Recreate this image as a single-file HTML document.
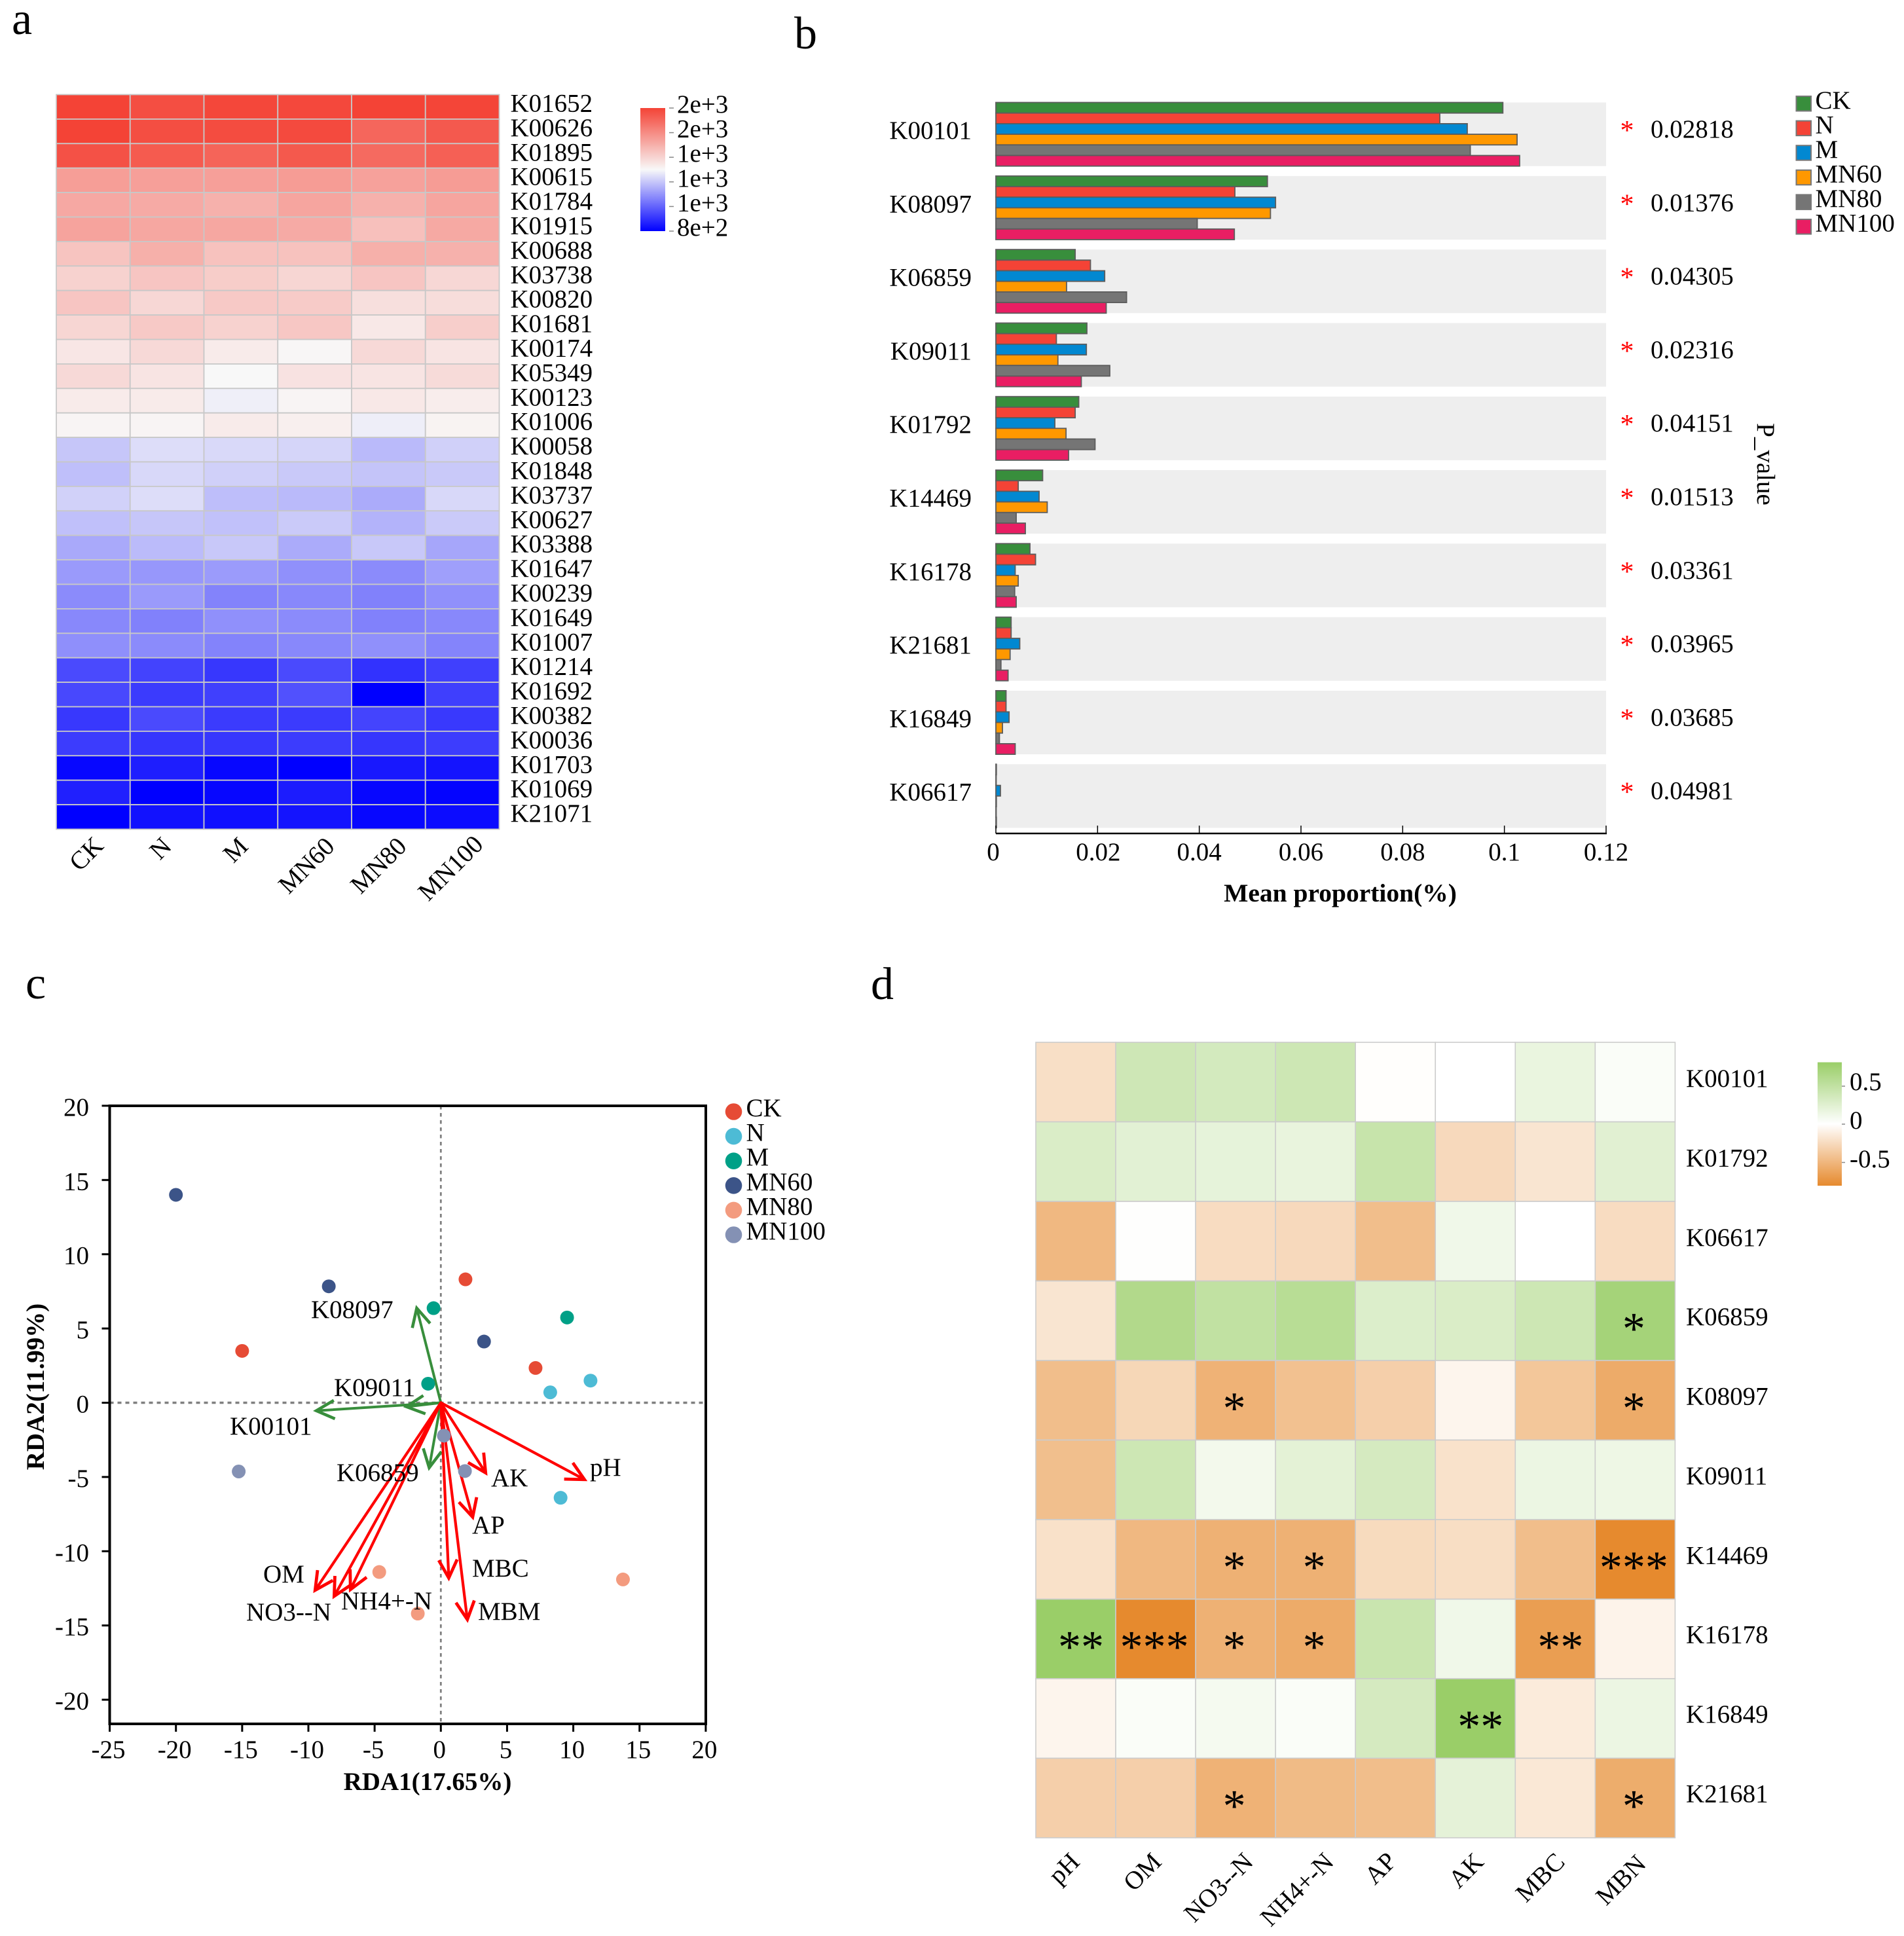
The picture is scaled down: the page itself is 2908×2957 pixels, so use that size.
<!DOCTYPE html>
<html lang="en">
<head>
<meta charset="utf-8">
<title>KEGG functional gene figure</title>
<style>
html,body{margin:0;padding:0;background:#fff;}
svg{display:block;}
text{font-family:"Liberation Serif","DejaVu Serif",serif;font-size:39px;fill:#000;}
.b{font-weight:bold;}
.letter{font-size:70px;}
</style>
</head>
<body>
<svg id="figure" xmlns="http://www.w3.org/2000/svg" width="2908" height="2957" viewBox="0 0 2908 2957">
  <defs>
    <linearGradient id="gradA" x1="0" y1="0" x2="0" y2="1">
      <stop offset="0" stop-color="#F44336"/><stop offset="0.5" stop-color="#F8F8F8"/><stop offset="1" stop-color="#0000FF"/>
    </linearGradient>
    <linearGradient id="gradD" x1="0" y1="0" x2="0" y2="1">
      <stop offset="0" stop-color="#9ACE68"/><stop offset="0.5" stop-color="#FFFFFF"/><stop offset="1" stop-color="#E68A2E"/>
    </linearGradient>
  </defs>
  <rect width="2908" height="2957" fill="#fff"/>

  <text class="letter" x="18" y="52">a</text>
  <text class="letter" x="1213" y="74">b</text>
  <text class="letter" x="39" y="1525">c</text>
  <text class="letter" x="1330" y="1526">d</text>

  <g id="panelA"></g>
  <g>
    <text text-anchor="end" transform="translate(160 1294) rotate(-45)">CK</text>
    <text text-anchor="end" transform="translate(264 1295) rotate(-45)">N</text>
    <text text-anchor="end" transform="translate(381 1295) rotate(-45)">M</text>
    <text text-anchor="end" transform="translate(513 1295) rotate(-45)">MN60</text>
    <text text-anchor="end" transform="translate(623 1295) rotate(-45)">MN80</text>
    <text text-anchor="end" transform="translate(740 1292) rotate(-45)">MN100</text>
  </g>
  <g>
    <rect x="978" y="165" width="38" height="188" fill="url(#gradA)"/>
    <g stroke="#888" stroke-width="1.5">
      <line x1="1022" x2="1029" y1="165" y2="165"/><line x1="1022" x2="1029" y1="202.6" y2="202.6"/><line x1="1022" x2="1029" y1="240.2" y2="240.2"/><line x1="1022" x2="1029" y1="277.8" y2="277.8"/><line x1="1022" x2="1029" y1="315.4" y2="315.4"/><line x1="1022" x2="1029" y1="353" y2="353"/>
    </g>
    <text x="1034" y="172">2e+3</text>
    <text x="1034" y="209.6">2e+3</text>
    <text x="1034" y="247.2">1e+3</text>
    <text x="1034" y="284.8">1e+3</text>
    <text x="1034" y="322.4">1e+3</text>
    <text x="1034" y="360">8e+2</text>
  </g>

  <g id="panelB"></g>
  <text class="b" x="2047" y="1377" text-anchor="middle" style="font-size:39.5px">Mean proportion(%)</text>
  <text transform="translate(2684 709) rotate(90)" text-anchor="middle">P_value</text>

  <g id="panelC"></g>
  <text class="b" x="653" y="2734" text-anchor="middle">RDA1(17.65%)</text>
  <text class="b" transform="translate(67 2118) rotate(-90)" text-anchor="middle">RDA2(11.99%)</text>
  <g>
    <text x="475" y="2013">K08097</text>
    <text x="510" y="2132">K09011</text>
    <text x="351" y="2191">K00101</text>
    <text x="514" y="2262">K06859</text>
    <text x="901" y="2254">pH</text>
    <text x="750" y="2270">AK</text>
    <text x="721" y="2342">AP</text>
    <text x="721" y="2408">MBC</text>
    <text x="730" y="2474">MBM</text>
    <text x="402" y="2417">OM</text>
    <text x="376" y="2475">NO3--N</text>
    <text x="521" y="2458">NH4+-N</text>
  </g>

  <g id="panelD"></g>
  <g>
    <text text-anchor="end" transform="translate(1651 2846) rotate(-45)">pH</text>
    <text text-anchor="end" transform="translate(1776 2846) rotate(-45)">OM</text>
    <text text-anchor="end" transform="translate(1916 2846) rotate(-45)">NO3--N</text>
    <text text-anchor="end" transform="translate(2039 2846) rotate(-45)">NH4+-N</text>
    <text text-anchor="end" transform="translate(2135 2845) rotate(-45)">AP</text>
    <text text-anchor="end" transform="translate(2268 2846) rotate(-45)">AK</text>
    <text text-anchor="end" transform="translate(2392 2846) rotate(-45)">MBC</text>
    <text text-anchor="end" transform="translate(2516 2849) rotate(-45)">MBN</text>
  </g>
  <g>
    <rect x="2776" y="1622.5" width="37" height="188.5" fill="url(#gradD)"/>
    <g stroke="#888" stroke-width="1.5">
      <line x1="2813" x2="2818" y1="1659" y2="1659"/><line x1="2813" x2="2818" y1="1717" y2="1717"/><line x1="2813" x2="2818" y1="1775.5" y2="1775.5"/>
    </g>
    <text x="2825" y="1665">0.5</text>
    <text x="2825" y="1724">0</text>
    <text x="2825" y="1783">-0.5</text>
  </g>
</svg>

<script>
/* ---------- Panel a data ---------- */
const heatGenes = ["K01652","K00626","K01895","K00615","K01784","K01915","K00688","K03738","K00820","K01681","K00174","K05349","K00123","K01006","K00058","K01848","K03737","K00627","K03388","K01647","K00239","K01649","K01007","K01214","K01692","K00382","K00036","K01703","K01069","K21071"];
const heatTreatments = ["CK","N","M","MN60","MN80","MN100"];
const heatValues = [
[1800,1770,1790,1785,1800,1795],
[1800,1770,1775,1780,1703,1739],
[1760,1735,1710,1740,1692,1720],
[1550,1545,1545,1555,1540,1554],
[1520,1515,1495,1530,1496,1529],
[1535,1525,1525,1515,1455,1518],
[1445,1500,1450,1450,1500,1495],
[1405,1440,1420,1395,1440,1390],
[1440,1390,1430,1425,1370,1375],
[1395,1430,1405,1435,1345,1415],
[1350,1385,1335,1305,1385,1355],
[1385,1355,1300,1360,1355,1380],
[1335,1335,1282,1310,1345,1330],
[1310,1310,1335,1325,1280,1315],
[1200,1245,1238,1230,1175,1220],
[1185,1235,1220,1205,1195,1205],
[1222,1245,1183,1175,1145,1236],
[1187,1200,1190,1207,1160,1207],
[1140,1178,1203,1145,1203,1135],
[1110,1105,1113,1090,1080,1120],
[1080,1110,1065,1075,1060,1090],
[1075,1060,1090,1080,1060,1075],
[1088,1080,1065,1075,1090,1067],
[950,935,910,950,900,930],
[945,918,930,963,800,928],
[912,950,918,918,937,915],
[920,908,910,920,908,922],
[815,860,815,800,848,840],
[865,800,815,856,815,808],
[800,836,832,840,815,825]
];

/* ---------- Panel b data ---------- */
const barGenes = ["K00101","K08097","K06859","K09011","K01792","K14469","K16178","K21681","K16849","K06617"];
const barGroups = ["CK","N","M","MN60","MN80","MN100"];
const barCK = [0.0997,0.0534,0.0156,0.0179,0.0163,0.0092,0.0067,0.0030,0.0020,0.0001];
const barN = [0.0873,0.0470,0.0186,0.0119,0.0156,0.0044,0.0078,0.0030,0.0020,0.00005];
const barM = [0.0927,0.0550,0.0214,0.0178,0.0116,0.0085,0.0038,0.0047,0.0026,0.0009];
const barMN60 = [0.1025,0.0540,0.0139,0.0122,0.0138,0.0101,0.0044,0.0028,0.0013,0.0001];
const barMN80 = [0.0933,0.0396,0.0257,0.0224,0.0195,0.0040,0.0037,0.0010,0.0007,0.00005];
const barMN100 = [0.1030,0.0469,0.0217,0.0168,0.0143,0.0058,0.0040,0.0024,0.0038,0.0001];
const barSeries = [barCK,barN,barM,barMN60,barMN80,barMN100];
const pValues = ["0.02818","0.01376","0.04305","0.02316","0.04151","0.01513","0.03361","0.03965","0.03685","0.04981"];
const barTicks = [0,0.02,0.04,0.06,0.08,0.1,0.12];

/* ---------- Panel c data ---------- */
const rdaGroups = ["CK","N","M","MN60","MN80","MN100"];
const rdaGroupOfPoint = [0,0,0,1,1,1,2,2,2,3,3,3,4,4,4,5,5,5];
const rdaScore1 = [1.86,7.15,-15.0,11.3,8.26,9.04,9.53,-0.55,-0.96,-20.0,-8.46,3.26,-4.65,-1.74,13.75,0.23,1.82,-15.26];
const rdaScore2 = [8.31,2.34,3.49,1.49,0.7,-6.4,5.74,6.37,1.28,14.0,7.84,4.12,-11.4,-14.2,-11.9,-2.22,-4.6,-4.63];
const geneNames = ["K00101","K09011","K08097","K06859"];
const geneRda1 = [-9.4,-2.6,-1.82,-0.88];
const geneRda2 = [-0.54,-0.27,6.37,-4.38];
const envNames = ["pH","AK","AP","MBC","MBM","OM","NO3--N","NH4+-N"];
const envRda1 = [10.84,3.38,2.4,0.6,2.0,-9.49,-8.05,-6.82];
const envRda2 = [-5.17,-4.72,-7.7,-11.8,-14.6,-12.63,-13.03,-12.58];
const rdaXTicks = [-25,-20,-15,-10,-5,0,5,10,15,20];
const rdaYTicks = [20,15,10,5,0,-5,-10,-15,-20];

/* ---------- Panel d data ---------- */
const corrGenes = ["K00101","K01792","K06617","K06859","K08097","K09011","K14469","K16178","K16849","K21681"];
const corrFactors = ["pH","OM","NO3--N","NH4+-N","AP","AK","MBC","MBN"];
const corrValues = [
[-0.22,0.39,0.35,0.40,-0.01,0,0.17,0.04],
[0.30,0.23,0.20,0.18,0.45,-0.26,-0.18,0.24],
[-0.49,0.01,-0.24,-0.26,-0.45,0.12,0,-0.24],
[-0.18,0.62,0.50,0.57,0.28,0.30,0.40,0.72],
[-0.45,-0.28,-0.53,-0.43,-0.33,-0.07,-0.39,-0.58],
[-0.44,0.40,0.10,0.22,0.34,-0.20,0.15,0.14],
[-0.21,-0.49,-0.54,-0.54,-0.25,-0.23,-0.45,-0.81],
[0.81,-0.81,-0.54,-0.58,0.43,0.12,-0.67,-0.08],
[-0.07,0.04,0.08,0.04,0.34,0.81,-0.14,0.15],
[-0.33,-0.33,-0.53,-0.47,-0.45,0.21,-0.16,-0.57]
];
const corrStars = [
["","","","","","","",""],
["","","","","","","",""],
["","","","","","","",""],
["","","","","","","","*"],
["","","*","","","","","*"],
["","","","","","","",""],
["","","*","*","","","","***"],
["**","***","*","*","","","**",""],
["","","","","","**","",""],
["","","*","","","","","*"]
];

/* ---------- helpers ---------- */
const NS = "http://www.w3.org/2000/svg";
function add(tag, attrs, parent, txt) {
  const el = document.createElementNS(NS, tag);
  for (const k in attrs) el.setAttribute(k, attrs[k]);
  if (txt !== undefined) el.textContent = txt;
  parent.appendChild(el);
  return el;
}
function hex(c) { return [parseInt(c.slice(1,3),16),parseInt(c.slice(3,5),16),parseInt(c.slice(5,7),16)]; }
function mix(a, b, t) {
  const A = hex(a), B = hex(b);
  t = Math.max(0, Math.min(1, t));
  return "rgb(" + A.map((v,i)=>Math.round(v+(B[i]-v)*t)).join(",") + ")";
}

/* ---------- Panel a ---------- */
(function () {
  const g = document.getElementById("panelA");
  const left = 86, top = 144.5, cw = (762.5-86)/6, rh = 37.4;
  const xA = c => left + c*cw;
  const yA = r => top + r*rh;
  const colorA = v => v >= 1300 ? mix("#F8F8F8","#F44336",(v-1300)/500) : mix("#F8F8F8","#0000FF",(1300-v)/500);
  heatValues.forEach((row,r) => {
    row.forEach((v,c) => {
      const cell = add("rect",{x:xA(c),y:yA(r),width:cw,height:rh,fill:colorA(v),stroke:"#c8c8c8","stroke-width":1.8},g);
      
      
    });
    const lab = add("text",{x:779.5,y:yA(r)+26},g,heatGenes[r]);
    
    
  });
})();

/* ---------- Panel b ---------- */
(function () {
  const g = document.getElementById("panelB");
  const x0 = 1521, x1 = 2453, bandTop = 156.5, pitch = 112.3, bandH = 97.2;
  const xB = v => x0 + (v/0.12)*(x1-x0);
  const yB = r => bandTop + r*pitch;
  const colors = ["#388E3C","#F44336","#0288D1","#FF9800","#757575","#E91E63"];
  barGenes.forEach((gene,r) => {
    const band = add("rect",{x:x0,y:yB(r),width:x1-x0,height:bandH,fill:"#EEEEEE"},g);
    
    
    const h = bandH/6;
    barSeries.forEach((series,s) => {
      const bar = add("rect",{x:x0,y:yB(r)+s*h,width:Math.max(0.5,xB(series[r])-x0),height:h,fill:colors[s],stroke:"#5c5c5c","stroke-width":1.8},g);
      
      
    });
    const lab = add("text",{x:1484,y:yB(r)+55.5,"text-anchor":"end"},g,gene);
    
    
    const star = add("text",{x:2485,y:yB(r)+56.5,"text-anchor":"middle",style:"font-size:42px;fill:#ff0000"},g,"*");
    
    
    const p = add("text",{x:2521,y:yB(r)+53.5},g,pValues[r]);
    
    
  });
  const axis = add("line",{x1:x0,x2:x1+1,y1:1273,y2:1273,stroke:"#000","stroke-width":2.6},g);
  
  
  barTicks.forEach(t => {
    const tick = add("line",{x1:xB(t),x2:xB(t),y1:1261,y2:1273,stroke:"#000","stroke-width":1.5},g);
    
    
    const lab = add("text",{x:xB(t)-(t===0?4:0)+(t===0.02?1:0),y:1314,"text-anchor":"middle"},g,String(t));
    
    
  });
  barGroups.forEach((name,i) => {
    const sw = add("rect",{x:2743.5,y:147+i*37.6,width:22.5,height:22.5,fill:colors[i],stroke:"#777","stroke-width":2},g);
    
    
    const lab = add("text",{x:2772.5,y:166+i*37.5},g,name);
    
    
  });
})();

/* ---------- Panel c ---------- */
(function () {
  const g = document.getElementById("panelC");
  const xR = v => 673.3 + v*20.23;
  const yR = v => 2142.5 - v*22.68;
  const L = 167.5, R = 1078, T = 1689, B = 2633;
  const colors = ["#E64B35","#4DBBD5","#00A087","#3C5488","#F39B7F","#8491B4"];

  const hz = add("line",{x1:L,x2:R,y1:yR(0),y2:yR(0),stroke:"#808080","stroke-width":3.5,"stroke-dasharray":"6 6"},g);
  
  
  const vt = add("line",{x1:xR(0),x2:xR(0),y1:T,y2:B,stroke:"#808080","stroke-width":2.8,"stroke-dasharray":"5.5 5.5"},g);
  
  

  const frame = add("rect",{x:L,y:T,width:R-L,height:B-T,fill:"none",stroke:"#000","stroke-width":4},g);
  
  

  rdaXTicks.forEach(t => {
    const tick = add("line",{x1:xR(t),x2:xR(t),y1:B,y2:B+12,stroke:"#000","stroke-width":3},g);
    
    
    const lab = add("text",{x:xR(t)-2,y:2685,"text-anchor":"middle"},g,String(t));
    
    
  });
  rdaYTicks.forEach(t => {
    const tick = add("line",{x1:L-12,x2:L,y1:yR(t),y2:yR(t),stroke:"#000","stroke-width":3},g);
    
    
    const lab = add("text",{x:136,y:yR(t)+15,"text-anchor":"end"},g,String(t));
    
    
  });

  function arrow(name, vx, vy, color, width) {
    const ax = g.ownerDocument.createElementNS(NS,"g");
    
    
    ax.setAttribute('aria-label', name);
    g.appendChild(ax);
    const tx = xR(vx), ty = yR(vy), ox = xR(0), oy = yR(0);
    add("line",{x1:ox,y1:oy,x2:tx,y2:ty,stroke:color,"stroke-width":width,"stroke-linecap":"round"},ax);
    const ang = Math.atan2(oy-ty, ox-tx), s = 27*Math.PI/180, len = 31;
    const pts = [
      [tx+len*Math.cos(ang+s), ty+len*Math.sin(ang+s)],
      [tx, ty],
      [tx+len*Math.cos(ang-s), ty+len*Math.sin(ang-s)]
    ].map(p => p[0].toFixed(1)+","+p[1].toFixed(1)).join(" ");
    add("polyline",{points:pts,fill:"none",stroke:color,"stroke-width":width+0.6},ax);
  }
  geneNames.forEach((n,i) => arrow(n, geneRda1[i], geneRda2[i], "#388E3C", 4));
  envNames.forEach((n,i) => arrow(n, envRda1[i], envRda2[i], "#FF0000", 4.2));

  rdaScore1.forEach((v,i) => {
    const pt = add("circle",{cx:xR(v),cy:yR(rdaScore2[i]),r:10.5,fill:colors[rdaGroupOfPoint[i]]},g);
    
    
  });
  rdaGroups.forEach((name,i) => {
    const dot = add("circle",{cx:1120.5,cy:1698+i*37.6,r:12.8,fill:colors[i]},g);
    
    
    const lab = add("text",{x:1139.5,y:1705+i*37.6},g,name);
    
    
  });
})();

/* ---------- Panel d ---------- */
(function () {
  const g = document.getElementById("panelD");
  const left = 1582, top = 1592, cw = 122.05, rh = 121.5;
  const xD = c => left + c*cw;
  const yD = r => top + r*rh;
  const colorD = v => v >= 0 ? mix("#FFFFFF","#9ACE68",v/0.81) : mix("#FFFFFF","#E68A2E",-v/0.81);
  corrValues.forEach((row,r) => {
    row.forEach((v,c) => {
      const cell = add("rect",{x:xD(c),y:yD(r),width:cw,height:rh,fill:colorD(v),stroke:"#cccccc","stroke-width":1.6},g);
      
      
    });
    const lab = add("text",{x:2575,y:yD(r)+68-r*0.12},g,corrGenes[r]);
    
    
  });
  corrStars.forEach((row,r) => {
    row.forEach((s,c) => {
      if (!s) return;
      const shift = s.length === 2 ? 8 : -2;
      const st = add("text",{x:xD(c)+cw/2+shift,y:yD(r)+rh/2+35,"text-anchor":"middle",style:"font-size:70px"},g,s);
      
      
    });
  });
})();
</script>
</body>
</html>
